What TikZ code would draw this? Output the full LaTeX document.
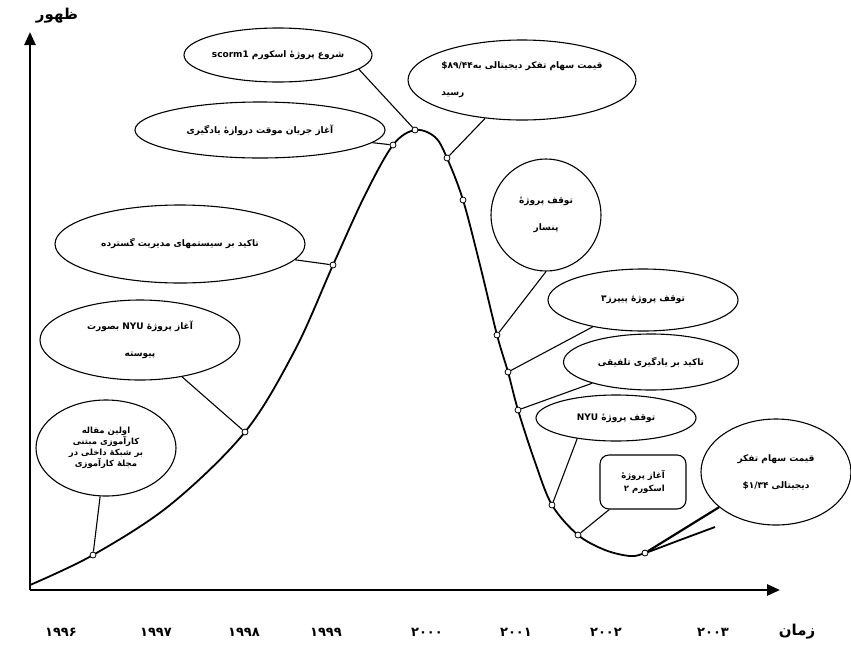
\documentclass[tikz,border=0pt]{standalone}
\usepackage{fontspec}
\setmainfont{DejaVu Sans}
\newfontfamily\fa[Script=Arabic]{DejaVu Sans}
\TeXXeTstate=1
\usetikzlibrary{arrows.meta,shapes.geometric}
\newcommand\RTLline[1]{\beginR #1\endR}
\begin{document}
\begin{tikzpicture}[x=1pt,y=-1pt,
  bubble/.style={draw, ellipse, line width=1.1pt, inner sep=0pt, align=center,
    font=\fa\bfseries\fontsize{9}{27}\selectfont},
  dot/.style={circle, draw, fill=white, inner sep=0pt, minimum size=6pt, line width=0.8pt},
  link/.style={line width=1.1pt},
  axisline/.style={line width=2.6pt, -{Triangle[length=13pt,width=11pt]}},
  yr/.style={font=\fa\bfseries\fontsize{13}{15}\selectfont},
  axlabel/.style={font=\fa\bfseries\fontsize{15}{17}\selectfont}]
\useasboundingbox (0,0) rectangle (851,646);

% axes
\coordinate (O) at (30,590);
\coordinate (Ytop) at (30,32);
\coordinate (Xend) at (780,590);
\draw[axisline] (O) -- (Ytop);
\draw[axisline] (O) -- (Xend);
\node[axlabel] (ylab) at (57,16) {\RTLline{ظهور}};
\node[axlabel] (xlab) at (797,632) {\RTLline{زمان}};

% years
\node[yr] (y96) at (61,632) {۱۹۹۶};
\node[yr] (y97) at (156,632) {۱۹۹۷};
\node[yr] (y98) at (244,632) {۱۹۹۸};
\node[yr] (y99) at (326,632) {۱۹۹۹};
\node[yr] (y00) at (427,632) {۲۰۰۰};
\node[yr] (y01) at (516,632) {۲۰۰۱};
\node[yr] (y02) at (606,632) {۲۰۰۲};
\node[yr] (y03) at (713,632) {۲۰۰۳};

% curve
\draw[line width=1.8pt, line join=round] plot[smooth, tension=0.55] coordinates {
  (30,585) (93,555) (170,505) (245,432) (295,350) (333,265) (365,195)
  (393,145) (415,130) (435,137) (447,158) (463,200) (480,265) (497,335)
  (508,372) (518,410) (535,462) (552,505) (578,535) (605,550) (630,556)
  (645,553) (680,540) (715,527)};

% markers
\node[dot] (m1) at (93,555) {};
\node[dot] (m2) at (245,432) {};
\node[dot] (m3) at (333,265) {};
\node[dot] (m4) at (393,145) {};
\node[dot] (m5) at (415,130) {};
\node[dot] (m6) at (447,158) {};
\node[dot] (m7) at (463,200) {};
\node[dot] (m8) at (497,335) {};
\node[dot] (m9) at (508,372) {};
\node[dot] (m10) at (518,410) {};
\node[dot] (m11) at (552,505) {};
\node[dot] (m12) at (578,535) {};
\node[dot] (m13) at (645,553) {};

% bubbles
\node[bubble, minimum width=188pt, minimum height=54pt] (e1) at (278,55)
  {\RTLline{شروع پروژهٔ اسکورم \beginL scorm1\endL}};
\node[bubble, minimum width=192pt, minimum height=80pt, align=left] (e2) at (522,80)
  {\RTLline{قیمت سهام تفکر دیجیتالی به\beginL\$۸۹/۴۴\endL}\\\RTLline{رسید}};
\node[bubble, minimum width=250pt, minimum height=56pt] (e3) at (260,130)
  {\RTLline{آغاز جریان موقت دروازهٔ یادگیری}};
\node[bubble, minimum width=250pt, minimum height=78pt] (e4) at (180,244)
  {\RTLline{تاکید بر سیستمهای مدیریت گسترده}};
\node[bubble, minimum width=200pt, minimum height=80pt] (e5) at (140,340)
  {\RTLline{آغاز پروژهٔ \beginL NYU\endL{} بصورت}\\\RTLline{پیوسته}};
\node[bubble, minimum width=140pt, minimum height=96pt,
  font=\fa\bfseries\fontsize{8.5}{11}\selectfont] (e6) at (106,448)
  {\RTLline{اولین مقاله}\\\RTLline{کارآموزی مبتنی}\\\RTLline{بر شبکهٔ داخلی در}\\\RTLline{مجلهٔ کارآموزی}};
\node[bubble, minimum width=110pt, minimum height=112pt] (e7) at (546,215)
  {\RTLline{توقف پروژهٔ}\\\RTLline{پنسار}};
\node[bubble, minimum width=190pt, minimum height=62pt] (e8) at (643,300)
  {\RTLline{توقف پروژهٔ پیپرز۳}};
\node[bubble, minimum width=175pt, minimum height=56pt] (e9) at (651,362)
  {\RTLline{تاکید بر یادگیری تلفیقی}};
\node[bubble, minimum width=160pt, minimum height=46pt] (e10) at (616,418)
  {\RTLline{توقف پروژهٔ \beginL NYU\endL}};
\node[draw, rounded corners=9pt, line width=1.1pt, minimum width=86pt, minimum height=54pt,
  align=right, inner sep=2pt, font=\fa\bfseries\fontsize{8.5}{13}\selectfont] (r11) at (643,482)
  {\RTLline{آغاز پروژهٔ}\\\RTLline{اسکورم ۲}};
\node[bubble, minimum width=150pt, minimum height=106pt] (e12) at (776,472)
  {\RTLline{قیمت سهام تفکر}\\\RTLline{دیجیتالی \beginL\$۱/۳۴\endL}};

% connectors
\draw[link] (e1.-10) -- (m5);
\draw[link] (e2) -- (m6);
\draw[link] (e3) -- (m4);
\draw[link] (e4) -- (m3);
\draw[link] (e5) -- (m2);
\draw[link] (e6) -- (m1);
\draw[link] (e7.south) -- (m8);
\draw[link] (e8) -- (m9);
\draw[link] (e9) -- (m10);
\draw[link] (e10.208) -- (m11);
\draw[link] (r11) -- (m12);
\draw[line width=2.2pt] (e12) -- (m13);
\end{tikzpicture}
\end{document}
